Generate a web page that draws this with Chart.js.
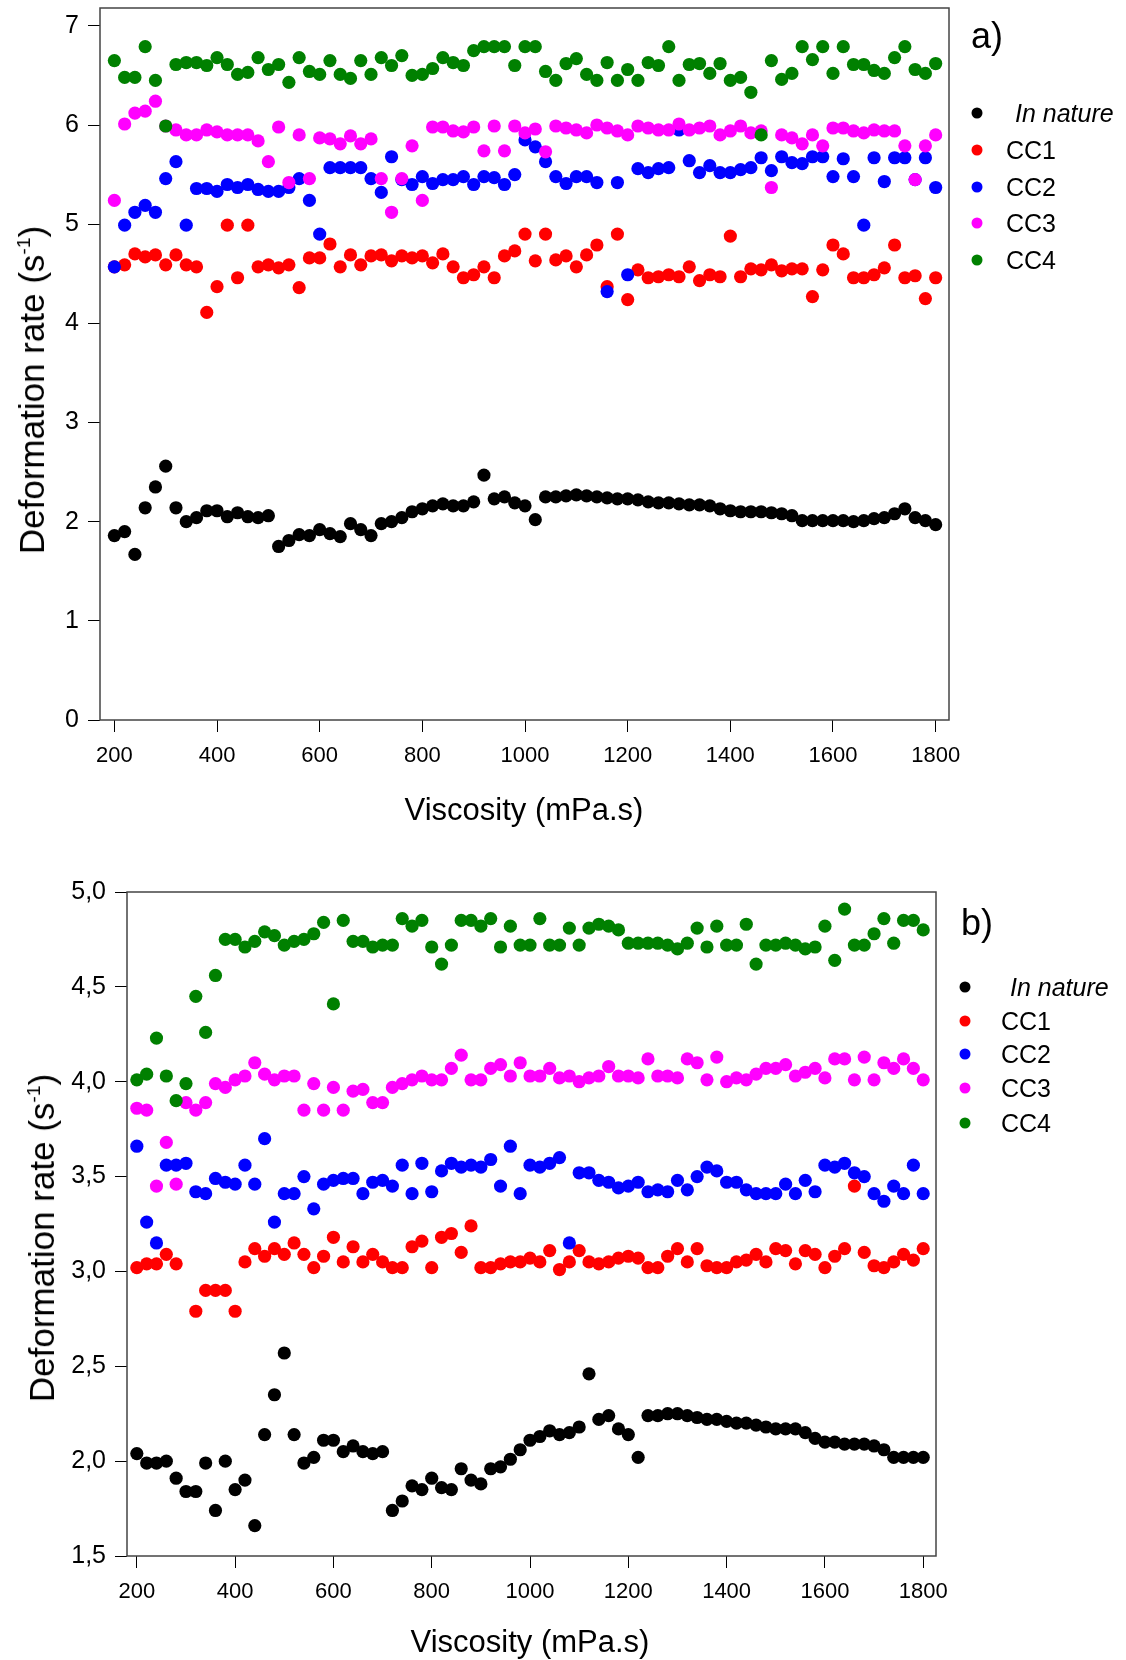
<!DOCTYPE html>
<html>
<head>
<meta charset="utf-8">
<script src="https://cdn.jsdelivr.net/npm/chart.js@4.4.1/dist/chart.umd.min.js"></script>
<style>
  body { margin: 0; background: #fff; }
  #page { position: relative; width: 1126px; height: 1660px; font-family: 'Liberation Sans', Arial, sans-serif; color: #000; }
  canvas { position: absolute; left: 0; }
  .lbl { position: absolute; white-space: nowrap; }
  .ytitle { transform: translate(-50%, -50%) rotate(-90deg); font-size: 35px; }
  .xtitle { transform: translate(-50%, -50%); font-size: 31px; }
  .panel { transform: translate(0, -50%); font-size: 36px; }
  .dot { position: absolute; width: 11px; height: 11px; border-radius: 50%; transform: translate(-50%, -50%); }
  .leg { position: absolute; transform: translate(0, -50%); font-size: 25px; white-space: nowrap; }
  sup { font-size: 0.55em; vertical-align: 0.75em; }
</style>
</head>
<body>
<div id="page">
  <canvas id="chartA" width="1126" height="860" style="top:0"></canvas>
  <canvas id="chartB" width="1126" height="800" style="top:860px"></canvas>

  <div class="lbl ytitle" style="left:32px;top:390px">Deformation rate (s<sup>-1</sup>)</div>
  <div class="lbl xtitle" style="left:524px;top:810px">Viscosity (mPa.s)</div>
  <div class="lbl panel" style="left:971px;top:36px">a)</div>

  <div class="lbl ytitle" style="left:42px;top:1238px">Deformation rate (s<sup>-1</sup>)</div>
  <div class="lbl xtitle" style="left:530px;top:1642px">Viscosity (mPa.s)</div>
  <div class="lbl panel" style="left:961px;top:923px">b)</div>
</div>

<script>
// viscosity (mPa.s)
var viscosity = [200,220,240,260,280,300,320,340,360,380,
  400,420,440,460,480,500,520,540,560,580,
  600,620,640,660,680,700,720,740,760,780,
  800,820,840,860,880,900,920,940,960,980,
  1000,1020,1040,1060,1080,1100,1120,1140,1160,1180,
  1200,1220,1240,1260,1280,1300,1320,1340,1360,1380,
  1400,1420,1440,1460,1480,1500,1520,1540,1560,1580,
  1600,1620,1640,1660,1680,1700,1720,1740,1760,1780,
  1800];

var seriesNames = ['In nature', 'CC1', 'CC2', 'CC3', 'CC4'];
var seriesColors = ['#000000', '#ff0000', '#0000ff', '#ff00ff', '#008000'];

var xTicks = [200,400,600,800,1000,1200,1400,1600,1800];
var yTicksA = [0,1,2,3,4,5,6,7];
var yTicksB = [1.5,2.0,2.5,3.0,3.5,4.0,4.5,5.0];

// panel a)
var natureA = [1.86,1.90,1.67,2.14,2.35,2.56,2.14,2.00,2.04,2.11,
  2.11,2.05,2.09,2.05,2.04,2.06,1.75,1.81,1.87,1.86,
  1.92,1.88,1.85,1.98,1.92,1.86,1.98,2.00,2.04,2.10,
  2.13,2.16,2.18,2.16,2.16,2.20,2.47,2.23,2.25,2.19,
  2.16,2.02,2.25,2.25,2.26,2.27,2.26,2.25,2.24,2.23,
  2.23,2.22,2.20,2.19,2.19,2.18,2.17,2.17,2.16,2.13,
  2.11,2.10,2.10,2.10,2.09,2.08,2.06,2.01,2.01,2.01,
  2.01,2.01,2.00,2.01,2.03,2.04,2.08,2.13,2.04,2.01,
  1.97];
var cc1A = [4.57,4.59,4.70,4.67,4.69,4.59,4.69,4.59,4.57,4.11,
  4.37,4.99,4.46,4.99,4.57,4.59,4.56,4.59,4.36,4.66,
  4.66,4.80,4.57,4.69,4.59,4.68,4.69,4.63,4.68,4.66,
  4.68,4.61,4.70,4.57,4.46,4.49,4.57,4.46,4.68,4.73,
  4.90,4.63,4.90,4.64,4.68,4.57,4.69,4.79,4.37,4.90,
  4.24,4.54,4.46,4.47,4.49,4.47,4.57,4.43,4.49,4.47,
  4.88,4.47,4.55,4.54,4.59,4.53,4.55,4.55,4.27,4.54,
  4.79,4.70,4.46,4.46,4.49,4.56,4.79,4.46,4.48,4.25,
  4.46];
var cc2A = [4.57,4.99,5.12,5.19,5.12,5.46,5.63,4.99,5.36,5.36,
  5.33,5.40,5.37,5.40,5.35,5.33,5.33,5.37,5.46,5.24,
  4.90,5.57,5.57,5.57,5.57,5.46,5.32,5.68,5.45,5.40,
  5.48,5.41,5.45,5.45,5.48,5.40,5.48,5.47,5.40,5.50,
  5.85,5.78,5.63,5.48,5.41,5.48,5.48,5.42,4.32,5.42,
  4.49,5.56,5.52,5.56,5.57,5.95,5.64,5.52,5.59,5.52,
  5.52,5.55,5.57,5.67,5.54,5.68,5.62,5.61,5.68,5.68,
  5.48,5.66,5.48,4.99,5.67,5.43,5.67,5.67,5.45,5.67,
  5.37];
var cc3A = [5.24,6.01,6.12,6.14,6.24,5.99,5.95,5.90,5.90,5.95,
  5.93,5.90,5.90,5.90,5.84,5.63,5.98,5.42,5.90,5.46,
  5.87,5.86,5.81,5.89,5.81,5.86,5.46,5.12,5.46,5.79,
  5.24,5.98,5.98,5.94,5.93,5.98,5.74,5.99,5.74,5.99,
  5.92,5.96,5.73,5.99,5.97,5.95,5.92,6.00,5.97,5.94,
  5.90,5.99,5.97,5.95,5.95,6.01,5.95,5.97,5.99,5.90,
  5.94,5.99,5.92,5.94,5.37,5.90,5.87,5.81,5.90,5.79,
  5.97,5.97,5.94,5.92,5.95,5.94,5.94,5.79,5.45,5.79,
  5.90];
var cc4A = [6.65,6.48,6.48,6.79,6.45,5.99,6.61,6.63,6.63,6.60,
  6.68,6.61,6.51,6.53,6.68,6.56,6.61,6.43,6.68,6.54,
  6.51,6.65,6.51,6.47,6.65,6.51,6.68,6.60,6.70,6.50,
  6.51,6.57,6.68,6.63,6.60,6.75,6.79,6.79,6.79,6.60,
  6.79,6.79,6.54,6.45,6.62,6.67,6.51,6.45,6.63,6.45,
  6.56,6.45,6.63,6.60,6.79,6.45,6.61,6.62,6.52,6.62,
  6.45,6.48,6.33,5.90,6.65,6.46,6.52,6.79,6.66,6.79,
  6.52,6.79,6.61,6.61,6.55,6.52,6.68,6.79,6.56,6.52,
  6.62];

// panel b)
var natureB = [2.04,1.99,1.99,2.00,1.91,1.84,1.84,1.99,1.74,2.00,
  1.85,1.90,1.66,2.14,2.35,2.57,2.14,1.99,2.02,2.11,
  2.11,2.05,2.08,2.05,2.04,2.05,1.74,1.79,1.87,1.85,
  1.91,1.86,1.85,1.96,1.90,1.88,1.96,1.97,2.01,2.06,
  2.11,2.13,2.16,2.14,2.15,2.18,2.46,2.22,2.24,2.17,
  2.14,2.02,2.24,2.24,2.25,2.25,2.24,2.23,2.22,2.22,
  2.21,2.20,2.20,2.19,2.18,2.17,2.17,2.17,2.15,2.12,
  2.10,2.10,2.09,2.09,2.09,2.08,2.06,2.02,2.02,2.02,
  2.02];
var cc1B = [3.02,3.04,3.04,3.09,3.04,null,2.79,2.90,2.90,2.90,
  2.79,3.05,3.12,3.08,3.12,3.09,3.15,3.09,3.02,3.08,
  3.18,3.05,3.13,3.05,3.09,3.05,3.02,3.02,3.13,3.16,
  3.02,3.18,3.20,3.10,3.24,3.02,3.02,3.04,3.05,3.05,
  3.07,3.05,3.11,3.01,3.05,3.11,3.05,3.04,3.05,3.07,
  3.08,3.07,3.02,3.02,3.08,3.12,3.05,3.12,3.03,3.02,
  3.02,3.05,3.06,3.09,3.05,3.12,3.11,3.04,3.11,3.09,
  3.02,3.08,3.12,3.45,3.10,3.03,3.02,3.05,3.09,3.06,
  3.12];
var cc2B = [3.66,3.26,3.15,3.56,3.56,3.57,3.42,3.41,3.49,3.47,
  3.46,3.56,3.46,3.70,3.26,3.41,3.41,3.50,3.33,3.46,
  3.48,3.49,3.49,3.41,3.47,3.48,3.45,3.56,3.41,3.57,
  3.42,3.53,3.57,3.55,3.56,3.55,3.59,3.45,3.66,3.41,
  3.56,3.55,3.57,3.60,3.15,3.52,3.52,3.48,3.47,3.44,
  3.45,3.47,3.42,3.43,3.42,3.48,3.43,3.50,3.55,3.53,
  3.47,3.47,3.43,3.41,3.41,3.41,3.46,3.41,3.48,3.42,
  3.56,3.55,3.57,3.52,3.50,3.41,3.37,3.45,3.41,3.56,
  3.41];
var cc3B = [3.86,3.85,3.45,3.68,3.46,3.89,3.85,3.89,3.99,3.97,
  4.01,4.03,4.10,4.04,4.01,4.03,4.03,3.85,3.99,3.85,
  3.97,3.85,3.95,3.96,3.89,3.89,3.97,3.99,4.01,4.03,
  4.01,4.01,4.07,4.14,4.01,4.01,4.07,4.09,4.03,4.10,
  4.03,4.03,4.07,4.02,4.03,4.00,4.02,4.03,4.08,4.03,
  4.03,4.02,4.12,4.03,4.03,4.02,4.12,4.10,4.01,4.13,
  4.00,4.02,4.01,4.04,4.07,4.07,4.09,4.03,4.05,4.07,
  4.02,4.12,4.12,4.01,4.13,4.01,4.10,4.07,4.12,4.07,
  4.01];
var cc4B = [4.01,4.04,4.23,4.03,3.90,3.99,4.45,4.26,4.56,4.75,
  4.75,4.71,4.74,4.79,4.77,4.72,4.74,4.75,4.78,4.84,
  4.41,4.85,4.74,4.74,4.71,4.72,4.72,4.86,4.82,4.85,
  4.71,4.62,4.72,4.85,4.85,4.82,4.86,4.71,4.82,4.72,
  4.72,4.86,4.72,4.72,4.81,4.72,4.81,4.83,4.82,4.80,
  4.73,4.73,4.73,4.73,4.72,4.70,4.73,4.81,4.71,4.82,
  4.72,4.72,4.83,4.62,4.72,4.72,4.73,4.72,4.70,4.71,
  4.82,4.64,4.91,4.72,4.72,4.78,4.86,4.73,4.85,4.85,
  4.80];

function points(values) {
  var out = [];
  for (var i = 0; i < viscosity.length; i++) {
    if (values[i] !== null) out.push({x: viscosity[i], y: values[i]});
  }
  return out;
}

function makeDatasets(list) {
  return list.map(function(values, i) {
    return {
      label: seriesNames[i],
      data: points(values),
      backgroundColor: seriesColors[i],
      borderColor: seriesColors[i],
      pointRadius: 6.6,
      pointHoverRadius: 6.6,
      borderWidth: 0,
      order: list.length - i   // later series drawn on top
    };
  });
}

// box round the plot area
var frame = {
  id: 'frame',
  afterDraw: function(chart) {
    var a = chart.chartArea, ctx = chart.ctx;
    ctx.save();
    ctx.strokeStyle = '#444';
    ctx.lineWidth = 1.5;
    ctx.strokeRect(a.left, a.top, a.right - a.left, a.bottom - a.top);
    ctx.restore();
  }
};

function makeChart(id, datasets, o) {
  return new Chart(document.getElementById(id), {
    type: 'scatter',
    data: { datasets: datasets },
    plugins: [frame],
    options: {
      responsive: false,
      animation: false,
      layout: { padding: o.padding },
      plugins: { legend: { display: false }, tooltip: { enabled: false } },
      scales: {
        x: {
          type: 'linear', min: o.xMin, max: o.xMax,
          afterBuildTicks: function(s) { s.ticks = xTicks.map(function(v) { return {value: v}; }); },
          afterFit: function(s) { s.height = o.xHeight; s.paddingLeft = 0; s.paddingRight = 0; },
          grid: { drawOnChartArea: false, drawTicks: true, tickLength: 12, color: '#000' },
          border: { display: false },
          ticks: { color: '#000', padding: 11, font: { family: "'Liberation Sans', Arial", size: 22 },
                   callback: function(v) { return String(v); } }
        },
        y: {
          type: 'linear', min: o.yMin, max: o.yMax,
          afterBuildTicks: function(s) { s.ticks = o.yTicks.map(function(v) { return {value: v}; }); },
          afterFit: function(s) { s.width = o.yWidth; s.paddingTop = 0; s.paddingBottom = 0; },
          grid: { drawOnChartArea: false, drawTicks: true, tickLength: 12, color: '#000' },
          border: { display: false },
          ticks: { color: '#000', padding: 9, font: { family: "'Liberation Sans', Arial", size: 25 },
                   callback: o.yFormat }
        }
      }
    }
  });
}

makeChart('chartA', makeDatasets([natureA, cc1A, cc2A, cc3A, cc4A]), {
  padding: { left: 0, right: 177, top: 8, bottom: 0 },
  xMin: 172, xMax: 1826, xHeight: 140, yWidth: 100,
  yMin: 0, yMax: 7.18, yTicks: yTicksA,
  yFormat: function(v) { return String(v); }
});

makeChart('chartB', makeDatasets([natureB, cc1B, cc2B, cc3B, cc4B]), {
  padding: { left: 0, right: 190, top: 32, bottom: 0 },
  xMin: 180, xMax: 1826, xHeight: 104, yWidth: 127,
  yMin: 1.5, yMax: 5.0, yTicks: yTicksB,
  yFormat: function(v) { return v.toFixed(1).replace('.', ','); }
});

// legends
var page = document.getElementById('page');
function legend(dotX, textX, rowsY) {
  seriesNames.forEach(function(name, i) {
    var d = document.createElement('div');
    d.className = 'dot';
    d.style.left = dotX + 'px';
    d.style.top = rowsY[i] + 'px';
    d.style.background = seriesColors[i];
    page.appendChild(d);
    var t = document.createElement('div');
    t.className = 'leg';
    t.style.left = (i === 0 ? textX + 9 : textX) + 'px';
    t.style.top = rowsY[i] + 'px';
    if (i === 0) t.style.fontStyle = 'italic';
    t.textContent = name;
    page.appendChild(t);
  });
}
legend(977, 1006, [113, 150, 187, 223, 260]);
legend(965, 1001, [987, 1021, 1054, 1088, 1123]);
</script>
</body>
</html>
